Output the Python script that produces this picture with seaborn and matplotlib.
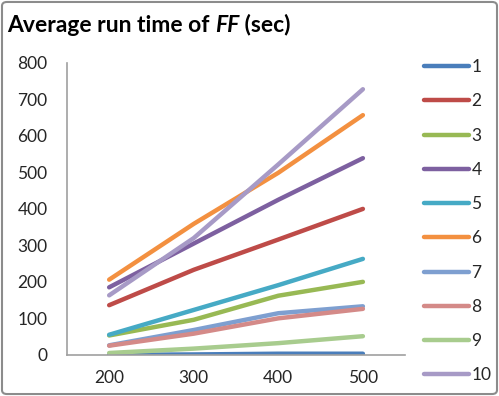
import matplotlib
matplotlib.use('Agg')
import matplotlib.pyplot as plt
import numpy as np
import pandas as pd
import seaborn as sns
from matplotlib.offsetbox import AnchoredOffsetbox, HPacker, TextArea
from matplotlib.patches import FancyBboxPatch

# Average run time of FF (sec), per problem size
SIZES = [200, 300, 400, 500]
SERIES = ['1', '2', '3', '4', '5', '6', '7', '8', '9', '10']
RUN_1 = [0, 1, 3, 3]
RUN_2 = [136, 233, 316, 400]
RUN_3 = [53, 96, 162, 200]
RUN_4 = [185, 305, 425, 539]
RUN_5 = [55, 123, 191, 263]
RUN_6 = [206, 359, 499, 657]
RUN_7 = [26, 68, 114, 133]
RUN_8 = [25, 58, 100, 126]
RUN_9 = [5, 17, 32, 51]
RUN_10 = [163, 320, 522, 728]

COLORS = ['#4A7EBB', '#BE4B48', '#98B954', '#7D60A0', '#46AAC5',
          '#F39040', '#7E9FD0', '#D48A88', '#A8CC8E', '#A79AC6']

runs = [RUN_1, RUN_2, RUN_3, RUN_4, RUN_5, RUN_6, RUN_7, RUN_8, RUN_9, RUN_10]
df = pd.DataFrame([
    {'size': s, 'seconds': v, 'series': name}
    for name, vals in zip(SERIES, runs)
    for s, v in zip(SIZES, vals)
])

sns.set_style('white')
plt.rcParams['font.family'] = ['Lato', 'DejaVu Sans']

fig = plt.figure(figsize=(4.99, 3.96), dpi=100)
ax = fig.add_axes([0.134, 0.104, 0.678, 0.737])

sns.lineplot(data=df, x='size', y='seconds', hue='series', hue_order=SERIES,
             palette=dict(zip(SERIES, COLORS)), linewidth=3.2,
             solid_capstyle='round', ax=ax, legend=True)

ax.set_xlim(150, 550)
ax.set_ylim(0, 800)
ax.set_xticks(SIZES)
ax.set_yticks(range(0, 801, 100))
ax.tick_params(axis='both', labelsize=12.5, length=0)
ax.tick_params(axis='x', pad=11)
ax.tick_params(axis='y', pad=14)
ax.set_xlabel('')
ax.set_ylabel('')
for side in ['top', 'right']:
    ax.spines[side].set_visible(False)
for side in ['left', 'bottom']:
    ax.spines[side].set_color('#A0A0A0')
    ax.spines[side].set_linewidth(1.2)

handles, labels = ax.get_legend_handles_labels()
for h in handles:
    h.set_linewidth(3.2)
    h.set_solid_capstyle('round')
ax.legend(handles, labels, loc='upper left', bbox_to_anchor=(0.835, 0.868),
          bbox_transform=fig.transFigure, frameon=False, fontsize=12.5,
          handlelength=2.6, handletextpad=0.15, labelspacing=1.05,
          borderaxespad=0)

# title with italic FF
parts = [('Average run time of ', 'normal'), ('FF', 'italic'), (' (sec)', 'normal')]
boxes = [TextArea(t, textprops=dict(fontsize=16.5, fontweight='bold',
                                    fontstyle=st, color='black'))
         for t, st in parts]
title = AnchoredOffsetbox(loc='upper left', child=HPacker(children=boxes, pad=0, sep=0),
                          bbox_to_anchor=(0.014, 0.965), bbox_transform=fig.transFigure,
                          frameon=False, pad=0, borderpad=0)
fig.add_artist(title)

border = FancyBboxPatch((0.004, 0.005), 0.992, 0.99, boxstyle='round,pad=0,rounding_size=0.01',
                        transform=fig.transFigure, fill=False, edgecolor='#8C8C8C',
                        linewidth=1.5)
fig.add_artist(border)

fig.savefig('out.png', dpi=100)
